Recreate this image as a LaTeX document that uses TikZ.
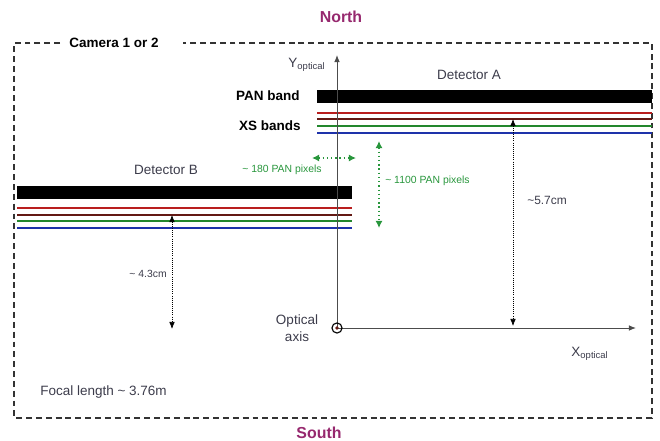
\documentclass[tikz,border=0pt]{standalone}
\usepackage{fontspec}
\setmainfont{Liberation Sans}
\usetikzlibrary{arrows.meta,positioning}
\definecolor{polecol}{RGB}{150,40,110}
\definecolor{txt}{RGB}{60,60,75}
\definecolor{pangreen}{RGB}{40,150,60}
\definecolor{xsred}{RGB}{185,30,30}
\definecolor{xsbrown}{RGB}{100,25,20}
\definecolor{xsgreen}{RGB}{35,135,45}
\definecolor{xsblue}{RGB}{30,50,170}
\tikzset{
  lbl/.style={text=txt,font=\fontsize{9.6}{11}\selectfont,inner sep=0pt},
  smalllbl/.style={text=txt,font=\fontsize{7.4}{9}\selectfont,inner sep=0pt},
  boldlbl/.style={text=black,font=\bfseries\fontsize{9.6}{11}\selectfont,inner sep=0pt},
  polelbl/.style={text=polecol,font=\bfseries\fontsize{11.3}{13}\selectfont,inner sep=0pt},
  frame/.style={draw=black!80,line width=1.4pt,dash pattern=on 4.2pt off 2.8pt},
  band/.style={draw=black!60,line width=0.35pt,double distance=1.3pt},
  axis/.style={draw=black!70,line width=0.7pt,-{Latex[length=5pt,width=4pt]}},
  dim/.style={densely dotted,{Latex[length=5pt,width=4pt]}-{Latex[length=5pt,width=4pt]},line width=0.5pt},
  gdim/.style={dotted,{Latex[length=5pt,width=5pt]}-{Latex[length=5pt,width=5pt]},line width=1pt,pangreen},
}
\begin{document}
\begin{tikzpicture}[x=0.025cm,y=-0.025cm]
    \useasboundingbox (0,0) rectangle (660,441);
    % camera frame
    \draw[frame] (60,43)--(14,43)--(14,418)--(652,418)--(652,43)--(183,43);
    \node[boldlbl] (cam) at (114,43) {Camera 1 or 2};
    \node[polelbl] (north) at (341,17) {North};
    \node[polelbl] (south) at (319,433) {South};
    %% detector A
    \fill (317,90) rectangle (652,103);
    \foreach \c/\y in {xsred/113,xsbrown/119,xsgreen/126,xsblue/133}
        \draw[band,double=\c] (317,\y)--(652,\y);
    \node[lbl] (detA) at (469,75) {Detector A};
    \node[boldlbl,anchor=east] (pan) at (300,96) {PAN band};
    \node[boldlbl,anchor=east] (xs) at (301,126) {XS bands};
    %% detector B
    \fill (17,186) rectangle (352,199);
    \foreach \c/\y in {xsred/208,xsbrown/215,xsgreen/221,xsblue/228}
        \draw[band,double=\c] (17,\y)--(352,\y);
    \node[lbl] (detB) at (166,170) {Detector B};
    %% optical axes
    \coordinate (o) at (337,328);
    \coordinate (ytip) at (337,55);
    \coordinate (xtip) at (636,328);
    \draw[axis] (o)--(ytip);
    \draw[axis] (o)--(xtip);
    \draw[line width=0.8pt] (o) circle (3.6pt);
    \fill[xsbrown] (o) circle (1.3pt);
    \node[lbl] (ylab) at (307,65) {Y\textsubscript{optical}};
    \node[lbl] (xlab) at (590,354) {X\textsubscript{optical}};
    \node[lbl,align=center] (optax) at (297,328) {Optical\\[1pt]axis};
    % pixel offsets
    \coordinate (ha) at (312,158);
    \coordinate (hb) at (356,158);
    \draw[gdim] (ha)--(hb);
    \node[smalllbl,text=pangreen] (hlab) at (282,170) {\textasciitilde\ 180 PAN pixels};
    \coordinate (va) at (379,141);
    \coordinate (vb) at (379,228);
    \draw[gdim] (va)--(vb);
    \node[smalllbl,text=pangreen,anchor=west] (vlab) at (385,181) {\textasciitilde\ 1100 PAN pixels};
    % distances to the axis
    \coordinate (da) at (513,119);
    \coordinate (db) at (513,326);
    \draw[dim] (da)--(db);
    \node[lbl,font=\fontsize{8.5}{10}\selectfont,anchor=west] (dAlab) at (527,200) {\textasciitilde5.7cm};
    \coordinate (dc) at (172,215);
    \coordinate (dd) at (172,329);
    \draw[dim] (dc)--(dd);
    \node[smalllbl,anchor=east] (dBlab) at (167,274) {\textasciitilde\ 4.3cm};
    %
    \node[lbl,anchor=west] (focal) at (40,392) {Focal length \textasciitilde\ 3.76m};
\end{tikzpicture}
\end{document}
